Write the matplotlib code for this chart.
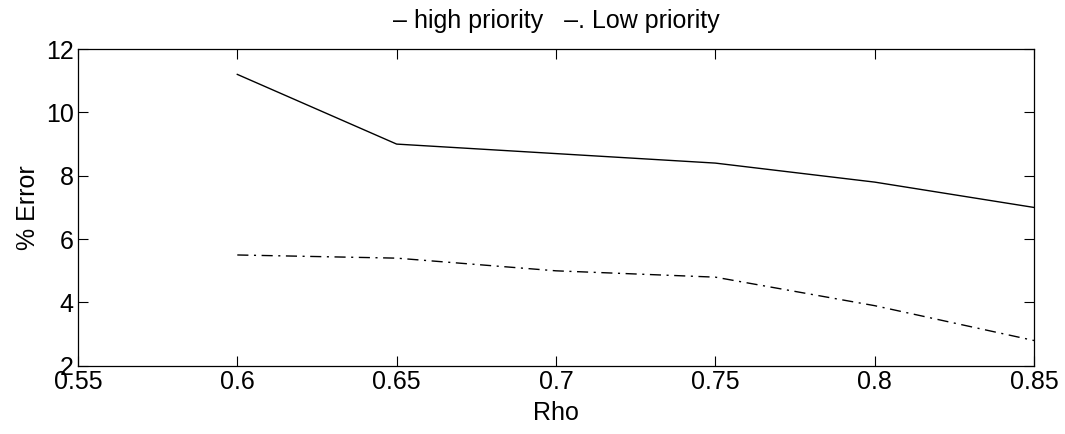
import matplotlib
matplotlib.use("Agg")
import matplotlib.pyplot as plt

# values
rho = [0.6, 0.65, 0.7, 0.75, 0.8, 0.85]
err_high = [11.2, 9.0, 8.7, 8.4, 7.8, 7.0]
err_low = [5.5, 5.4, 5.0, 4.8, 3.9, 2.8]
xticks = [0.55, 0.6, 0.65, 0.7, 0.75, 0.8, 0.85]
xtick_labels = ["0.55", "0.6", "0.65", "0.7", "0.75", "0.8", "0.85"]
yticks = [2, 4, 6, 8, 10, 12]

plt.rcParams["font.family"] = ["Liberation Sans", "DejaVu Sans"]

fig = plt.figure(figsize=(10.65, 4.34), dpi=100)
ax = fig.add_axes([0.0732, 0.157, 0.8977, 0.730])

ax.plot(rho, err_high, "-", color="black", lw=1.0)
ax.plot(rho, err_low, color="black", lw=1.0, dashes=[8, 4, 1.5, 4])

ax.set_xlim(0.55, 0.85)
ax.set_ylim(2, 12)
ax.set_xticks(xticks)
ax.set_xticklabels(xtick_labels)
ax.set_yticks(yticks)
ax.tick_params(direction="in", top=True, right=True, length=7, width=0.8,
               labelsize=18, pad=3)
for s in ax.spines.values():
    s.set_linewidth(0.9)

ax.set_xlabel("Rho", fontsize=18, labelpad=5)
ax.set_ylabel("% Error", fontsize=18, labelpad=4)
ax.set_title("\u2013 high priority   \u2013. Low priority", fontsize=18, pad=15)

fig.savefig("out.png", dpi=100)
